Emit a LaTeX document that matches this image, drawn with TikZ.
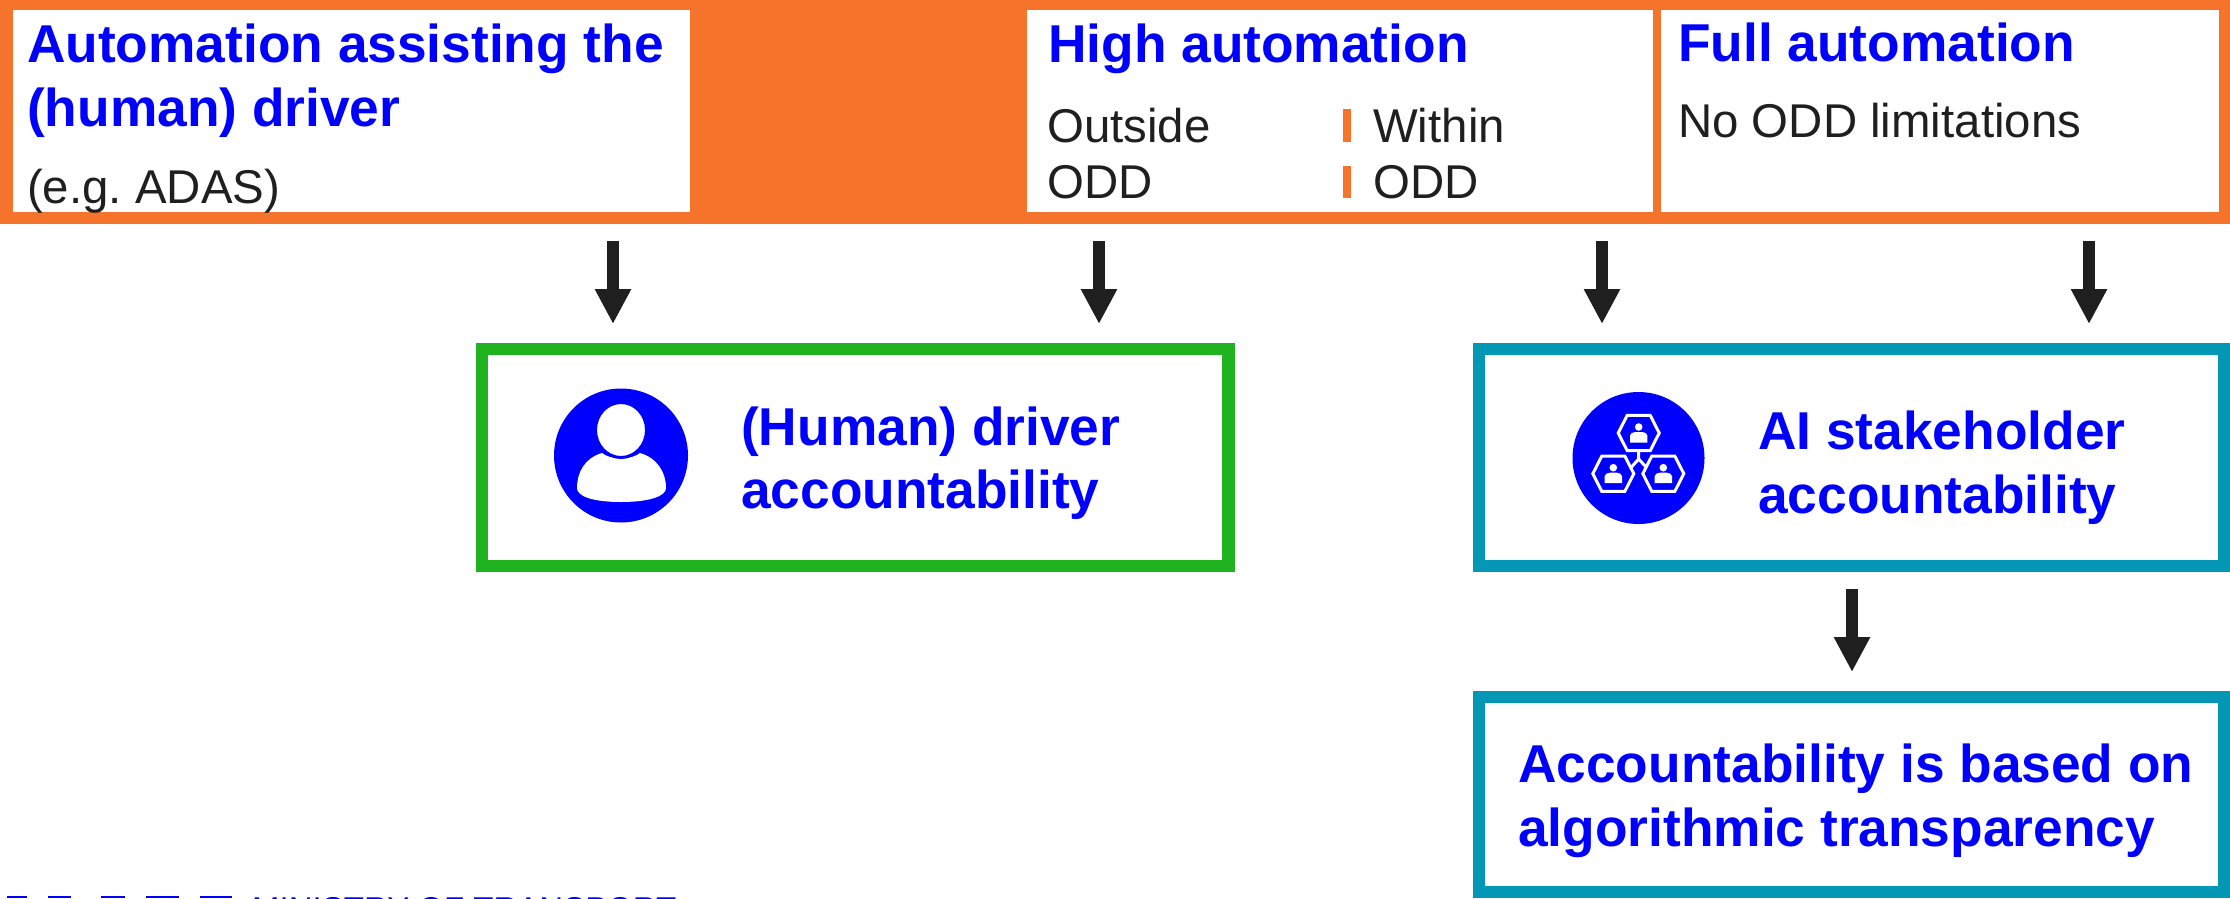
\documentclass[tikz,border=0pt]{standalone}
\usepackage{fontspec}
\setmainfont{Liberation Sans}
\usetikzlibrary{arrows.meta}
\definecolor{bandorange}{HTML}{F5732B}
\definecolor{boxgreen}{HTML}{1FB41F}
\definecolor{boxteal}{HTML}{0397B6}
\definecolor{headblue}{HTML}{0000FF}
\definecolor{inkgrey}{HTML}{1F1F1F}
\tikzset{
  x=1pt,y=-1pt,
  panel/.style={fill=white,draw=none,inner sep=0pt,outer sep=0pt,anchor=north west},
  framebox/.style={fill=white,line width=12.5pt,inner sep=0pt,outer sep=0pt,anchor=north west},
  headtext/.style={text=headblue,font=\fontsize{53.3}{64}\selectfont\bfseries,inner sep=0pt,anchor=base west,align=left},
  bodytext/.style={text=inkgrey,font=\fontsize{47.4}{56}\selectfont,inner sep=0pt,anchor=base west,align=left},
  flowarrow/.style={draw=inkgrey,line width=12.5pt,-{Triangle[length=35pt,width=34pt]}},
  oddbar/.style={fill=bandorange,draw=none},
  hexperson/.pic={
    \draw[white,line width=3pt,line join=miter] (-20.5,0) -- (-11.5,-17.7) -- (11.5,-17.7) -- (20.5,0) -- (11.5,17.7) -- (-11.5,17.7) -- cycle;
    \fill[white] (0,-6) circle (3.8);
    \fill[white] (-8.7,9.5) -- (-8.7,2.5) .. controls (-8.7,0) and (-6,-0.5) .. (-3.5,-1) -- (3.5,-1) .. controls (6,-0.5) and (8.7,0) .. (8.7,2.5) -- (8.7,9.5) -- cycle;
  }
}
\begin{document}
\begin{tikzpicture}
\frenchspacing
\useasboundingbox (0,0) rectangle (2230,898);
\clip (0,0) rectangle (2230,898);
% top band
\node[fill=bandorange,inner sep=0pt,outer sep=0pt,anchor=north west,minimum width=2230pt,minimum height=224pt] (band) at (0,0) {};
\node[panel,minimum width=677pt,minimum height=202pt] (assist) at (13,10) {};
\node[panel,minimum width=626pt,minimum height=202pt] (high) at (1027,10) {};
\node[panel,minimum width=558pt,minimum height=202pt] (full) at (1661,10) {};
\node[headtext] (assisttitle) at (27,62) {Automation assisting the};
\node[headtext] (assisttitleb) at (27,126) {(human) driver};
\node[bodytext] (adas) at (27,203) {(e.g. ADAS)};
\node[headtext] (hightitle) at (1048,62) {High automation};
\node[bodytext] (outside) at (1047,142) {Outside};
\node[bodytext] (outsideb) at (1047,198) {ODD};
\node[bodytext] (within) at (1373,142) {Within};
\node[bodytext] (withinb) at (1373,198) {ODD};
\fill[oddbar] (1343,109) rectangle (1351,142);
\fill[oddbar] (1343,166) rectangle (1351,198);
\node[headtext] (fulltitle) at (1678,61) {Full automation};
\node[bodytext] (noodd) at (1678,137) {No ODD limitations};
% lower boxes
\node[framebox,draw=boxgreen,minimum width=746.5pt,minimum height=217pt] (driver) at (482.2,349.2) {};
\node[framebox,draw=boxteal,minimum width=745.5pt,minimum height=217pt] (stake) at (1479.2,349.2) {};
\node[framebox,draw=boxteal,minimum width=745.5pt,minimum height=195pt] (algo) at (1479.2,697.2) {};
\node[headtext] (drivertext) at (741,445) {(Human) driver};
\node[headtext] (drivertextb) at (741,508) {accountability};
\node[headtext] (staketext) at (1758,449) {AI stakeholder};
\node[headtext] (staketextb) at (1758,513) {accountability};
\node[headtext] (algotext) at (1518,782) {Accountability is based on};
\node[headtext] (algotextb) at (1518,846) {algorithmic transparency};
% arrows
\coordinate (a1s) at (613,241); \coordinate (a1e) at (613,324);
\coordinate (a2s) at (1099,241); \coordinate (a2e) at (1099,324);
\coordinate (a3s) at (1602,241); \coordinate (a3e) at (1602,324);
\coordinate (a4s) at (2089,241); \coordinate (a4e) at (2089,324);
\coordinate (a5s) at (1852,589); \coordinate (a5e) at (1852,672);
\draw[flowarrow] (a1s) -- (a1e);
\draw[flowarrow] (a2s) -- (a2e);
\draw[flowarrow] (a3s) -- (a3e);
\draw[flowarrow] (a4s) -- (a4e);
\draw[flowarrow] (a5s) -- (a5e);
% driver icon
\fill[headblue] (621,455.5) circle (67);
\fill[white] (577,488) .. controls (577,472) and (585,458) .. (602,453) .. controls (610,460) and (632,460) .. (640,453) .. controls (657,458) and (666,472) .. (666,488) .. controls (666,496) and (650,502) .. (621,502) .. controls (592,502) and (577,496) .. (577,488) -- cycle;
\filldraw[fill=white,draw=headblue,line width=3pt] (621,430) ellipse (25.5 and 27.5);
% stakeholder icon
\fill[headblue] (1638.5,458) circle (66);
\draw[white,line width=3pt] (1638.7,451) -- (1638.7,459) (1631.5,467) -- (1638.7,459) -- (1646,467);
\pic at (1638.7,433) {hexperson};
\pic at (1613.3,473.7) {hexperson};
\pic at (1663.3,473.7) {hexperson};
% footer
\fill[headblue] (7,895.5) rectangle (27,898);
\fill[headblue] (48,895.5) rectangle (71,898);
\fill[headblue] (101,895.5) rectangle (125,898);
\fill[headblue] (146,895.5) rectangle (179,898);
\fill[headblue] (200,895.5) rectangle (232,898);
\node[text=headblue,font=\fontsize{33}{36}\selectfont,inner sep=0pt,anchor=base west] (ministry) at (252,920) {MINISTRY OF TRANSPORT};
\end{tikzpicture}
\end{document}
